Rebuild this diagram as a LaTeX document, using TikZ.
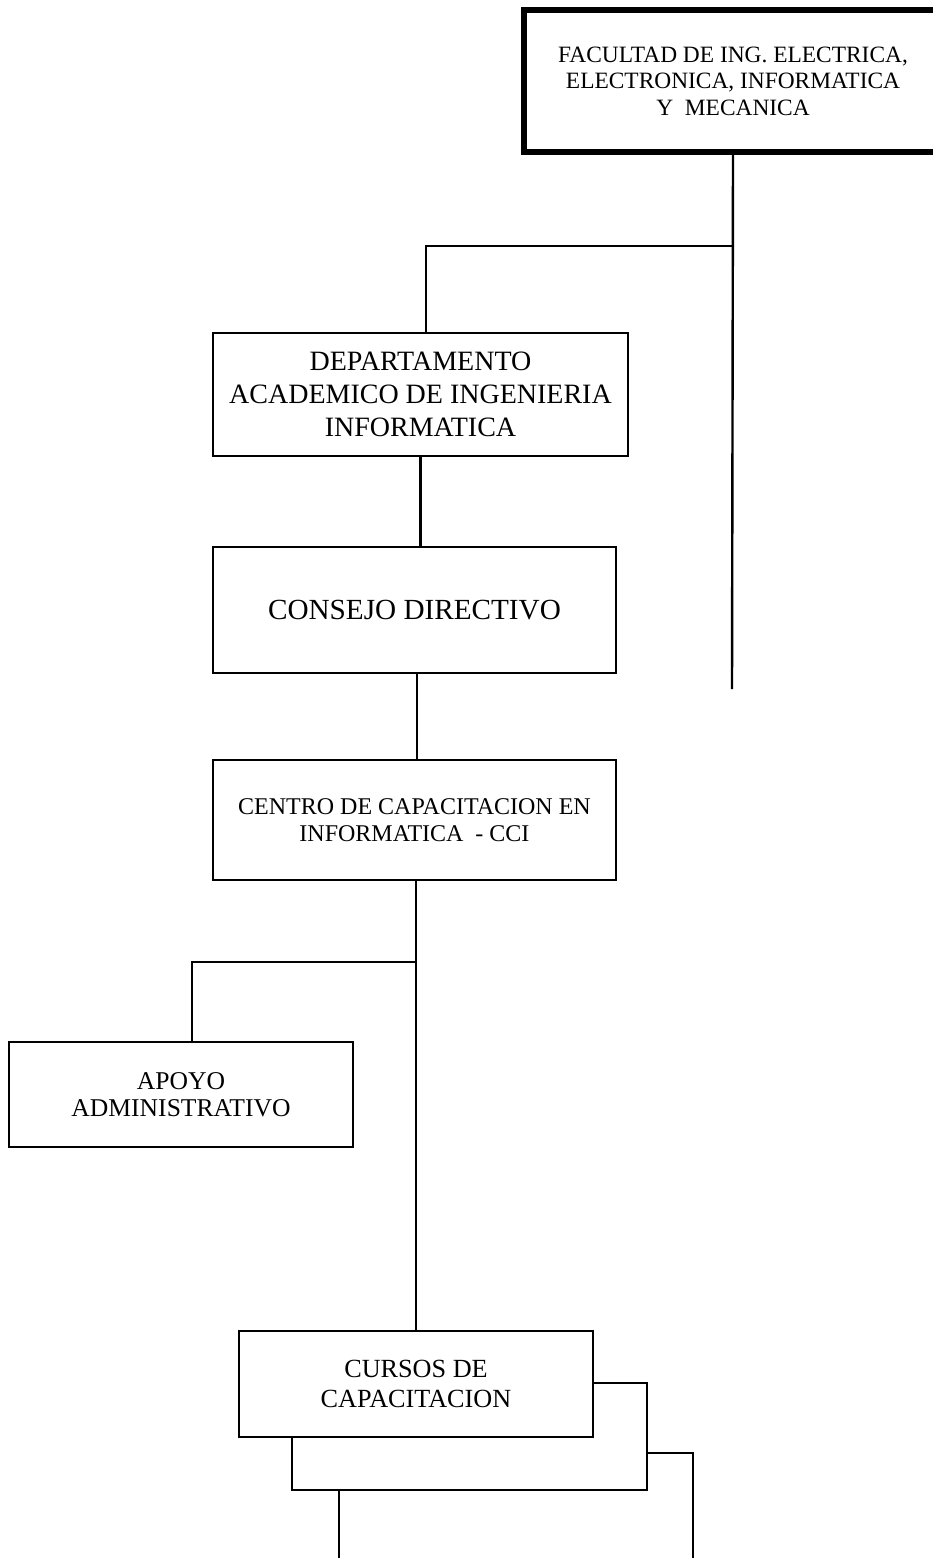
\documentclass[tikz,border=0pt]{standalone}
\usepackage{fontspec}
\setmainfont{Liberation Serif}
\begin{document}
\begin{tikzpicture}[x=0.5pt,y=-0.5pt,
  box/.style={draw,line width=1.2pt,rectangle,inner sep=0pt,align=center,fill=white},
  conn/.style={line width=1.2pt}]
\useasboundingbox (0,0) rectangle (932,1558);
% nodes
\node[box,line width=2.6pt,minimum width=209pt,minimum height=71pt,
  font=\fontsize{11.7}{13.3}\selectfont] (fac) at (733,81)
  {FACULTAD DE ING. ELECTRICA,\\ELECTRONICA, INFORMATICA\\Y\ \ MECANICA};
\node[box,minimum width=207.5pt,minimum height=61.5pt,
  font=\fontsize{14}{16.5}\selectfont] (dept) at (420.5,394.5)
  {DEPARTAMENTO\\ACADEMICO DE INGENIERIA\\INFORMATICA};
\node[box,minimum width=201.5pt,minimum height=63pt,
  font=\fontsize{14.6}{17}\selectfont] (cons) at (414.5,610)
  {CONSEJO DIRECTIVO};
\node[box,minimum width=201.5pt,minimum height=60pt,
  font=\fontsize{12}{13.5}\selectfont] (cci) at (414.5,820)
  {CENTRO DE CAPACITACION EN\\INFORMATICA\ \ - CCI};
\node[box,minimum width=172pt,minimum height=52.5pt,
  font=\fontsize{12.8}{13.5}\selectfont] (apoyo) at (181,1094.5)
  {APOYO\\ADMINISTRATIVO};
\node[box,minimum width=177pt,minimum height=56pt] (back2) at (516,1509) {};
\node[box,minimum width=177.5pt,minimum height=53.5pt] (back1) at (469.5,1436.5) {};
\node[box,minimum width=177pt,minimum height=53pt,
  font=\fontsize{13.1}{15}\selectfont] (cursos) at (416,1384)
  {CURSOS DE\\CAPACITACION};
% connectors
\coordinate (j1) at (732,246);
\coordinate (fend) at (732,689);
\coordinate (j2) at (416,962);
\draw[conn] (fac.south) -- (fend);
\draw[conn] (j1) -| ([xshift=2.75pt]dept.north);
\draw[conn] (dept.south) -- (dept.south |- cons.north);
\draw[conn] ([xshift=1.25pt]cons.south) -- ([xshift=1.25pt]cci.north);
\draw[conn] ([xshift=0.75pt]cci.south) -- (cursos.north);
\draw[conn] (j2) -| ([xshift=5.5pt]apoyo.north);
\end{tikzpicture}
\end{document}
